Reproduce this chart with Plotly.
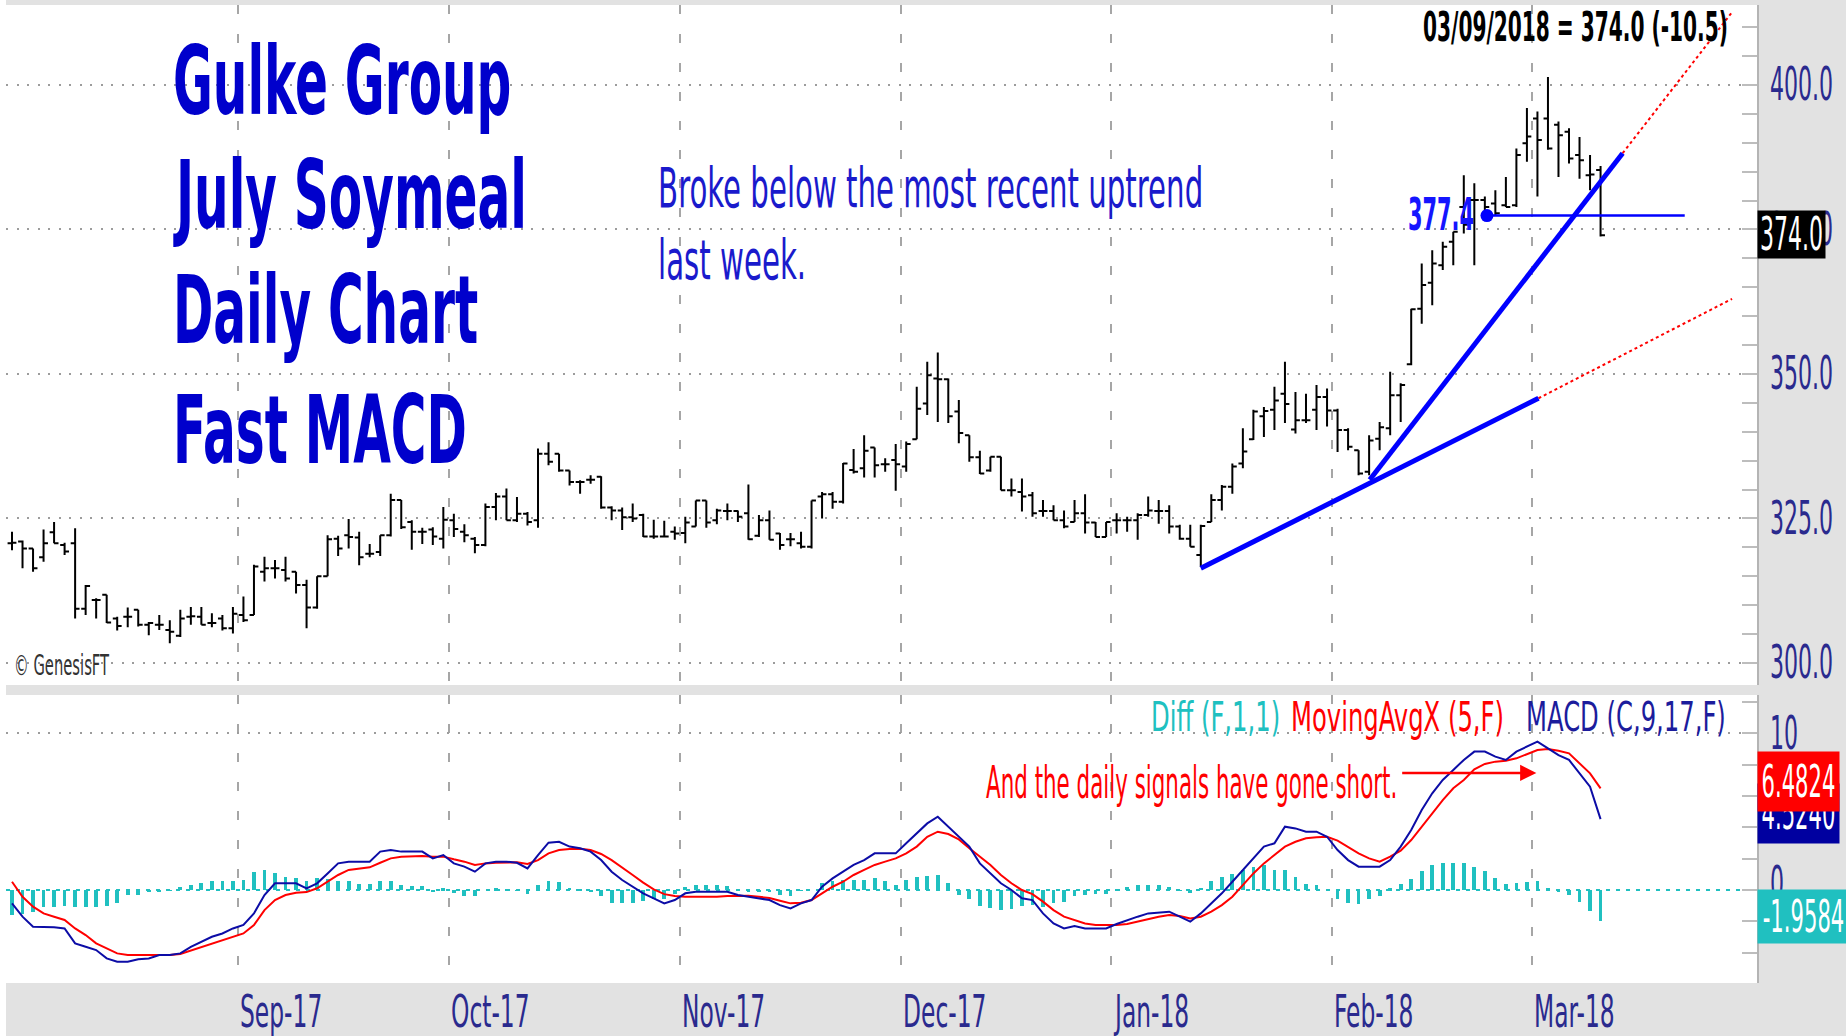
import plotly.graph_objects as go

# ---------------- data ----------------
open_ = [320.7, 321.0, 319.8, 318.3, 322.6, 320.4, 320.7, 309.4, 310.9, 311.8,
         307.7, 308.0, 309.2, 306.6, 306.6, 305.7, 304.7, 308.0, 308.0, 306.9,
         307.7, 306.0, 308.3, 308.3, 315.8, 316.4, 316.1, 315.8, 313.5, 309.6,
         315.0, 321.5, 322.1, 321.7, 318.9, 319.2, 322.1, 328.2, 324.4, 322.7,
         323.1, 321.5, 324.7, 322.7, 321.5, 320.4, 327.0, 328.8, 324.7, 325.8,
         324.7, 336.2, 336.2, 333.3, 331.3, 331.7, 332.2, 326.9, 326.4, 325.2,
         325.6, 321.9, 321.9, 322.7, 322.5, 323.6, 328.1, 324.7, 326.3, 326.3,
         325.9, 322.0, 324.7, 322.4, 321.4, 320.7, 320.1, 328.8, 329.2, 327.9,
         333.4, 333.7, 337.3, 334.4, 335.1, 334.0, 338.7, 344.9, 349.2, 349.1,
         343.5, 339.4, 335.6, 333.3, 335.7, 329.9, 329.6, 329.0, 326.3, 326.3,
         324.7, 324.4, 325.9, 324.3, 321.8, 324.7, 324.7, 324.7, 325.6, 326.3,
         326.3, 323.6, 321.5, 318.7, 324.4, 328.2, 330.5, 334.5, 338.7, 342.7,
         343.8, 346.6, 340.4, 342.0, 343.8, 346.0, 343.7, 340.3, 336.8, 333.1,
         338.8, 340.6, 346.3, 351.7, 361.3, 365.8, 368.8, 372.9, 378.9, 380.1,
         380.1, 379.5, 379.2, 379.2, 389.9, 394.2, 394.2, 393.1, 391.9, 387.9,
         384.4, 385.3]
high = [322.7, 321.2, 319.8, 323.1, 324.4, 320.8, 323.3, 313.5, 311.2, 311.8,
        308.0, 309.6, 309.2, 307.1, 308.3, 307.4, 309.2, 309.7, 309.7, 308.6,
        308.3, 309.7, 311.5, 317.0, 318.4, 317.8, 318.4, 315.8, 314.4, 315.0,
        322.1, 322.0, 324.9, 322.7, 320.6, 322.1, 329.3, 328.2, 324.7, 323.4,
        323.5, 327.0, 325.8, 324.0, 321.8, 327.6, 329.4, 330.2, 328.7, 326.1,
        337.1, 338.2, 336.2, 333.3, 331.6, 332.5, 332.3, 327.1, 326.9, 327.6,
        325.8, 324.8, 324.6, 323.6, 325.3, 328.1, 328.1, 326.7, 327.6, 326.4,
        330.9, 325.6, 326.4, 322.5, 322.5, 322.7, 328.1, 329.6, 329.6, 334.6,
        337.0, 339.4, 337.3, 335.4, 337.9, 338.3, 347.8, 352.1, 353.7, 349.2,
        345.5, 339.4, 336.7, 335.7, 335.7, 331.9, 331.9, 329.6, 328.2, 327.3,
        326.4, 328.2, 329.2, 324.4, 324.4, 325.9, 325.3, 325.9, 328.8, 328.2,
        327.3, 323.9, 323.9, 323.9, 329.2, 330.8, 334.5, 340.6, 343.8, 344.3,
        347.8, 352.1, 346.9, 346.6, 348.1, 347.5, 344.0, 340.6, 336.8, 339.4,
        341.7, 350.4, 348.4, 361.3, 369.1, 371.4, 372.9, 374.6, 384.4, 383.0,
        380.7, 381.8, 384.1, 389.0, 396.0, 395.4, 401.4, 393.7, 392.5, 391.0,
        387.9, 386.0]
low = [319.5, 316.4, 315.8, 317.5, 320.7, 318.7, 307.7, 308.3, 307.7, 306.9,
       305.6, 306.2, 306.3, 304.8, 305.7, 303.4, 304.5, 306.6, 306.6, 306.2,
       305.6, 305.1, 307.1, 308.3, 314.1, 314.6, 314.1, 312.0, 306.0, 309.4,
       315.0, 318.5, 319.8, 316.9, 318.3, 318.5, 321.9, 323.2, 319.6, 320.6,
       320.4, 319.8, 321.8, 320.9, 319.0, 320.2, 324.7, 324.7, 324.4, 323.8,
       323.4, 334.2, 333.1, 330.7, 329.3, 331.0, 326.7, 324.7, 323.0, 324.4,
       321.8, 321.5, 321.8, 321.3, 320.7, 323.6, 323.4, 324.0, 324.7, 324.4,
       321.3, 321.8, 321.3, 319.6, 320.2, 319.8, 319.8, 325.0, 326.7, 327.6,
       332.8, 332.1, 332.1, 333.1, 329.8, 333.1, 338.7, 342.9, 341.7, 341.5,
       338.0, 334.8, 332.7, 333.1, 329.9, 328.8, 326.2, 325.3, 325.3, 324.7,
       323.3, 324.4, 322.4, 321.8, 321.8, 322.4, 322.7, 321.3, 325.3, 324.1,
       322.4, 321.3, 320.1, 316.6, 324.4, 326.4, 329.3, 333.7, 338.6, 339.1,
       340.3, 341.5, 339.7, 341.5, 340.3, 340.9, 336.5, 336.8, 332.5, 332.5,
       336.8, 339.4, 341.7, 351.5, 358.7, 361.9, 368.0, 368.8, 374.3, 368.8,
       377.2, 377.5, 378.9, 378.9, 386.7, 380.7, 388.8, 384.1, 386.4, 383.8,
       381.8, 373.8]
close = [320.8, 319.8, 316.4, 320.7, 320.7, 319.3, 309.4, 313.3, 310.9, 307.0,
         306.4, 308.0, 306.6, 306.9, 306.6, 305.4, 307.7, 308.1, 306.6, 306.9,
         306.0, 308.5, 307.4, 316.7, 316.4, 316.4, 314.6, 313.5, 309.6, 315.0,
         321.4, 319.8, 321.8, 318.3, 318.9, 322.1, 328.2, 323.5, 322.7, 322.7,
         321.9, 324.8, 323.2, 322.1, 320.4, 327.0, 328.8, 324.7, 325.8, 324.4,
         336.2, 334.8, 333.3, 331.3, 331.3, 331.7, 326.9, 326.4, 325.2, 325.0,
         321.9, 321.9, 321.9, 322.4, 324.3, 328.1, 324.3, 326.4, 326.3, 325.3,
         321.4, 324.7, 321.3, 320.4, 321.4, 320.1, 328.1, 329.2, 327.9, 334.5,
         333.1, 336.7, 334.2, 334.4, 334.4, 337.9, 344.0, 349.8, 349.1, 342.7,
         339.8, 335.6, 332.8, 335.7, 329.9, 329.9, 328.8, 325.9, 326.3, 324.7,
         323.6, 325.9, 324.3, 321.8, 324.4, 324.7, 324.7, 325.6, 326.4, 326.3,
         323.6, 321.5, 320.1, 323.7, 328.2, 330.5, 334.0, 336.6, 343.5, 343.6,
         345.4, 344.8, 342.0, 342.0, 346.0, 343.7, 340.3, 337.4, 332.8, 338.5,
         340.8, 346.3, 348.1, 361.2, 365.4, 369.1, 372.0, 374.6, 375.8, 380.1,
         378.9, 377.8, 378.9, 387.9, 391.1, 390.5, 389.0, 391.3, 387.3, 387.0,
         384.5, 374.0]

# MACD (C,9,17,F)
macd = [-0.85, -1.70, -2.34, -2.34, -2.38, -2.45, -3.40, -3.62, -3.83, -4.36,
        -4.57, -4.57, -4.42, -4.36, -4.15, -4.15, -4.04, -3.62, -3.30, -2.98,
        -2.77, -2.45, -2.23, -1.49, -0.32, 0.43, 0.43, 0.43, 0.11, 0.43,
        1.06, 1.70, 1.81, 1.81, 1.81, 2.45, 2.55, 2.45, 2.45, 2.45,
        2.02, 2.23, 1.70, 1.49, 1.17, 1.70, 1.81, 1.81, 1.74, 1.38,
        2.23, 3.02, 3.08, 2.77, 2.66, 2.45, 1.91, 1.17, 0.64, 0.21,
        -0.21, -0.53, -0.85, -0.64, -0.21, -0.11, -0.11, -0.11, -0.11, -0.32,
        -0.43, -0.53, -0.64, -0.96, -1.17, -0.85, -0.64, 0.21, 0.74, 1.17,
        1.60, 1.91, 2.34, 2.34, 2.34, 2.98, 3.62, 4.25, 4.68, 4.04,
        3.40, 2.77, 1.70, 1.06, 0.43, 0.00, -0.53, -0.64, -1.49, -2.13,
        -2.45, -2.30, -2.45, -2.45, -2.45, -2.17, -1.91, -1.70, -1.49, -1.45,
        -1.38, -1.70, -2.02, -1.49, -0.85, -0.21, 0.53, 1.28, 2.02, 2.77,
        2.98, 4.04, 3.93, 3.72, 3.72, 3.40, 2.55, 1.91, 1.49, 1.49,
        1.49, 1.91, 2.77, 3.83, 5.10, 6.17, 7.02, 7.66, 8.30, 8.83,
        8.83, 8.51, 8.30, 8.83, 9.15, 9.47, 9.04, 8.61, 8.30, 7.44,
        6.59, 4.524]
# MovingAvgX (5,F)
signal = [0.53, -0.43, -1.06, -1.49, -1.70, -1.91, -2.45, -2.87, -3.40, -3.72,
          -4.04, -4.15, -4.15, -4.15, -4.15, -4.15, -4.08, -3.87, -3.62, -3.40,
          -3.19, -2.98, -2.77, -2.23, -1.28, -0.64, -0.32, -0.17, -0.13, 0.11,
          0.53, 0.96, 1.28, 1.38, 1.45, 1.74, 2.02, 2.13, 2.17, 2.17,
          2.13, 2.13, 1.96, 1.81, 1.60, 1.70, 1.74, 1.77, 1.77, 1.66,
          1.91, 2.34, 2.55, 2.62, 2.64, 2.55, 2.30, 1.91, 1.45, 0.96,
          0.47, 0.04, -0.26, -0.38, -0.43, -0.43, -0.43, -0.43, -0.38, -0.36,
          -0.36, -0.43, -0.51, -0.68, -0.85, -0.81, -0.64, -0.21, 0.21, 0.53,
          0.96, 1.28, 1.60, 1.81, 2.02, 2.34, 2.77, 3.40, 3.72, 3.57,
          3.23, 2.66, 2.13, 1.60, 0.96, 0.43, 0.00, -0.26, -0.74, -1.28,
          -1.70, -1.91, -2.13, -2.23, -2.23, -2.23, -2.17, -2.02, -1.87, -1.70,
          -1.60, -1.66, -1.81, -1.70, -1.38, -0.96, -0.43, 0.32, 1.06, 1.70,
          2.23, 2.77, 3.08, 3.30, 3.36, 3.40, 3.15, 2.77, 2.34, 2.02,
          1.81, 2.13, 2.51, 3.19, 4.04, 4.89, 5.74, 6.49, 7.02, 7.70,
          8.04, 8.19, 8.25, 8.40, 8.68, 8.93, 9.00, 8.89, 8.72, 8.08,
          7.44, 6.4824]
# Diff (F,1,1) histogram
diff = [-1.60, -1.50, -1.40, -1.10, -1.10, -1.00, -1.10, -1.10, -1.10, -1.00,
        -0.85, -0.30, -0.30, -0.15, -0.10, -0.05, 0.20, 0.30, 0.45, 0.55,
        0.55, 0.60, 0.65, 1.15, 1.30, 1.10, 0.85, 0.75, 0.55, 0.75,
        0.70, 0.60, 0.55, 0.40, 0.40, 0.60, 0.55, 0.30, 0.25, 0.25,
        -0.10, 0.10, -0.20, -0.35, -0.40, 0.00, 0.10, 0.05, -0.05, -0.25,
        0.35, 0.60, 0.50, 0.15, 0.05, -0.10, -0.40, -0.80, -0.85, -0.80,
        -0.70, -0.60, -0.60, -0.25, 0.20, 0.30, 0.30, 0.30, 0.25, 0.05,
        -0.10, -0.10, -0.15, -0.30, -0.35, -0.05, 0.00, 0.45, 0.55, 0.65,
        0.65, 0.65, 0.75, 0.55, 0.35, 0.65, 0.85, 0.90, 0.95, 0.45,
        -0.30, -0.55, -1.00, -1.15, -1.25, -1.20, -1.05, -0.95, -1.10, -0.85,
        -0.75, -0.40, -0.30, -0.25, -0.25, 0.05, 0.20, 0.30, 0.35, 0.30,
        0.20, -0.05, -0.20, 0.15, 0.55, 0.80, 1.00, 1.30, 1.50, 1.60,
        1.30, 1.25, 0.85, 0.40, 0.35, 0.00, -0.60, -0.85, -0.90, -0.60,
        -0.35, 0.10, 0.40, 0.70, 1.20, 1.60, 1.75, 1.75, 1.70, 1.50,
        1.20, 0.75, 0.40, 0.45, 0.50, 0.55, 0.15, -0.10, -0.30, -0.75,
        -1.35, -1.9584]

month_labels = ["Sep-17", "Oct-17", "Nov-17", "Dec-17", "Jan-18", "Feb-18", "Mar-18"]
month_first_bar = [22, 42, 64, 85, 105, 126, 145]
price_ticks = [300, 325, 350, 375, 400]
last_date = "03/09/2018"
last_close = 374.0
net_change = -10.5

# hand-drawn trendlines (bar index, price)
tl_low_x = [113, 145.1]
tl_low_y = [316.4, 345.8]
tl_low_ext_x = [145.1, 163.5]
tl_low_ext_y = [345.8, 363.0]
tl_steep_x = [129.06, 153.1]
tl_steep_y = [331.7, 388.2]
tl_steep_ext_x = [153.1, 163.5]
tl_steep_ext_y = [388.2, 412.6]
level_x = [140.2, 159.0]
level_y = [377.4, 377.4]
arrow_x = [132.0, 144.9]
arrow_y = [7.47, 7.47]

# ---------------- figure geometry ----------------
W, H = 1846, 1036
ML, MR, MT, MB = 6, 89, 5, 53
PW, PH = W - ML - MR, H - MT - MB


def px(x):
    return (x - ML) / PW


def py(y):
    return (H - MB - y) / PH


FONT = "DejaVu Sans Condensed, Liberation Sans Narrow, sans-serif"
NAVY = "#2a2a8e"
TEAL = "#20c0c0"
RED = "#ff0000"
BLUE = "#0000ff"
MACD_BLUE = "#0c0ca6"

idx = list(range(len(close)))
grid_x = [m - 0.5 for m in month_first_bar]

fig = go.Figure()

fig.add_trace(go.Ohlc(
    x=idx, open=open_, high=high, low=low, close=close,
    increasing=dict(line=dict(color="black", width=2)),
    decreasing=dict(line=dict(color="black", width=2)),
    tickwidth=0.42, xaxis="x", yaxis="y", showlegend=False, hoverinfo="skip"))

for xs, ys in [(tl_low_ext_x, tl_low_ext_y), (tl_steep_ext_x, tl_steep_ext_y)]:
    fig.add_trace(go.Scatter(x=xs, y=ys, mode="lines", line=dict(color=RED, width=2, dash="dot"),
                             xaxis="x", yaxis="y", showlegend=False))
for xs, ys in [(tl_low_x, tl_low_y), (tl_steep_x, tl_steep_y)]:
    fig.add_trace(go.Scatter(x=xs, y=ys, mode="lines", line=dict(color=BLUE, width=5),
                             xaxis="x", yaxis="y", showlegend=False))
fig.add_trace(go.Scatter(x=level_x, y=level_y, mode="lines", line=dict(color=BLUE, width=2.5),
                         xaxis="x", yaxis="y", showlegend=False))
fig.add_trace(go.Scatter(x=level_x[:1], y=level_y[:1], mode="markers",
                         marker=dict(color=BLUE, size=13), xaxis="x", yaxis="y", showlegend=False))

# MACD panel
fig.add_trace(go.Bar(x=idx, y=diff, width=0.36, marker=dict(color=TEAL, line=dict(width=0)),
                     xaxis="x2", yaxis="y2", showlegend=False))
fig.add_trace(go.Scatter(x=idx, y=signal, mode="lines", line=dict(color=RED, width=2),
                         xaxis="x2", yaxis="y2", showlegend=False))
fig.add_trace(go.Scatter(x=idx, y=macd, mode="lines", line=dict(color=MACD_BLUE, width=2),
                         xaxis="x2", yaxis="y2", showlegend=False))

xcommon = dict(range=[-0.57, 165.87], tickvals=grid_x, showticklabels=False, ticks="",
               showgrid=True, gridcolor="#a6a6a6", griddash="9px,20px", gridwidth=2,
               zeroline=False, fixedrange=True)
ycommon = dict(side="right", showticklabels=False, ticks="inside", ticklen=15, tickwidth=2,
               tickcolor="#bdbdbd", showgrid=True, gridcolor="#9c9c9c", griddash="2px,8.5px",
               gridwidth=2, zeroline=False, showline=True, linecolor="#b4b4b4", linewidth=2,
               fixedrange=True)
fig.update_layout(
    width=W, height=H,
    margin=dict(l=ML, r=MR, t=MT, b=MB),
    paper_bgcolor="#e2e2e2", plot_bgcolor="white",
    hovermode=False, showlegend=False, bargap=0,
    xaxis=dict(domain=[0, 1], anchor="y", rangeslider=dict(visible=False), **xcommon),
    xaxis2=dict(domain=[0, 1], anchor="y2", matches="x", **xcommon),
    yaxis=dict(domain=[py(685), 1], anchor="x", range=[296.19, 413.84], tickvals=price_ticks,
               minor=dict(dtick=5, tick0=0, ticks="inside", ticklen=15, tickwidth=2,
                          tickcolor="#bdbdbd", showgrid=False), **ycommon),
    yaxis2=dict(domain=[0, py(695)], anchor="x2", range=[-5.93, 12.44], tickvals=[10],
                minor=dict(dtick=2, tick0=0, ticks="inside", ticklen=15, tickwidth=2,
                           tickcolor="#bdbdbd", showgrid=False), **ycommon),
)

fig.update_layout(shapes=[
    dict(type="line", xref="x2 domain", yref="y2", x0=0, x1=1, y0=0, y1=0,
         line=dict(color=TEAL, width=2, dash="4px,6px"), layer="below"),
    dict(type="rect", xref="paper", yref="paper", x0=px(0), x1=px(ML), y0=py(H), y1=py(0),
         fillcolor="white", line=dict(width=0)),
])

anns = []
stretch = []


def add(s, **a):
    anns.append(a)
    stretch.append(s)


def txt(text, x, y, size, color, s, xanchor="left", bold=False, **kw):
    add(s, text=("<b>%s</b>" % text) if bold else text, xref="paper", yref="paper",
        x=px(x), y=py(y), xanchor=xanchor, yanchor="middle", showarrow=False,
        font=dict(family=FONT, size=size, color=color), **kw)


for t, yy in zip(["Gulke Group", "July Soymeal", "Daily Chart", "Fast MACD"], [82, 196, 311, 430]):
    txt(t, 171, yy, 54, "#0000cc", 1.74, bold=True)
txt("Broke below the most recent uptrend", 656, 188, 32.5, "#1a1acc", 1.70)
txt("last week.", 656, 260, 32.5, "#1a1acc", 1.70)
txt("%s = %.1f (%+.1f)" % (last_date, last_close, net_change), 1421, 26, 22.4, "black", 1.84, bold=True)
txt("%.1f" % level_y[0], 1476, 214, 23.2, "#1515ff", 1.95, xanchor="right", bold=True)
txt("© GenesisFT", 12, 665, 16.4, "#333333", 1.78)

# price axis labels
for v in price_ticks:
    add(1.85, text="%.1f" % v, xref="paper", yref="y", x=px(1768), y=v, xanchor="left",
        yanchor="middle", showarrow=False, font=dict(family=FONT, size=24.5, color=NAVY))
add(1.85, text="%.1f" % last_close, xref="paper", yref="paper", x=px(1757), y=py(234.5),
    xanchor="left", yanchor="middle", showarrow=False, bgcolor="black",
    width=65, height=45, font=dict(family=FONT, size=24.5, color="white"))

# MACD axis labels and value boxes
add(1.85, text="10", xref="paper", yref="y2", x=px(1768), y=10, xanchor="left", yanchor="middle",
    showarrow=False, font=dict(family=FONT, size=24.5, color=NAVY))
add(1.85, text="0", xref="paper", yref="y2", x=px(1768), y=0, yshift=7, xanchor="left",
    yanchor="middle", showarrow=False, font=dict(family=FONT, size=24.5, color=NAVY))
add(1.87, text="%.4f" % macd[-1], xref="paper", yref="paper", x=px(1757), y=py(813),
    xanchor="left", yanchor="middle", showarrow=False, bgcolor="#0000a0",
    width=79, height=57, font=dict(family=FONT, size=23.5, color="white"))
add(1.87, text="%.4f" % signal[-1], xref="paper", yref="paper", x=px(1757), y=py(781.5),
    xanchor="left", yanchor="middle", showarrow=False, bgcolor=RED,
    width=79, height=57, font=dict(family=FONT, size=23.5, color="white"))
add(1.87, text="%.4f" % diff[-1], xref="paper", yref="paper", x=px(1757), y=py(916.5),
    xanchor="left", yanchor="middle", showarrow=False, bgcolor=TEAL,
    width=89, height=51, font=dict(family=FONT, size=23.5, color="white"))

# MACD legend & note
txt("Diff (F,1,1)", 1149, 716, 27, TEAL, 1.52)
txt("MovingAvgX (5,F)", 1289, 716, 27, RED, 1.52)
txt("MACD (C,9,17,F)", 1524, 716, 27, "#1c1c9c", 1.52)
txt("And the daily signals have gone short.", 984, 783, 23.8, RED, 1.83)
add(1.0, text="", xref="x2", yref="y2", x=arrow_x[1], y=arrow_y[1],
    axref="x2", ayref="y2", ax=arrow_x[0], ay=arrow_y[0], showarrow=True,
    arrowhead=2, arrowsize=1.3, arrowwidth=2.5, arrowcolor=RED)

# month labels
for lbl, gx in zip(month_labels, grid_x):
    add(1.69, text=lbl, xref="x2", yref="paper", x=gx, y=py(1012), xanchor="left",
        yanchor="middle", showarrow=False, font=dict(family=FONT, size=26, color=NAVY))

fig.update_layout(annotations=anns)

css = "".join(
    'g.annotation[data-index="%d"] .annotation-text{transform-box:fill-box;'
    'transform-origin:center;transform:scaleY(%.3f);}' % (i, s)
    for i, s in enumerate(stretch))
post = """
document.body.style.margin = '0';
var st = document.createElement('style');
st.textContent = '%s';
document.head.appendChild(st);
""" % css
fig.write_html("out.html", post_script=post, config={"displayModeBar": False})
